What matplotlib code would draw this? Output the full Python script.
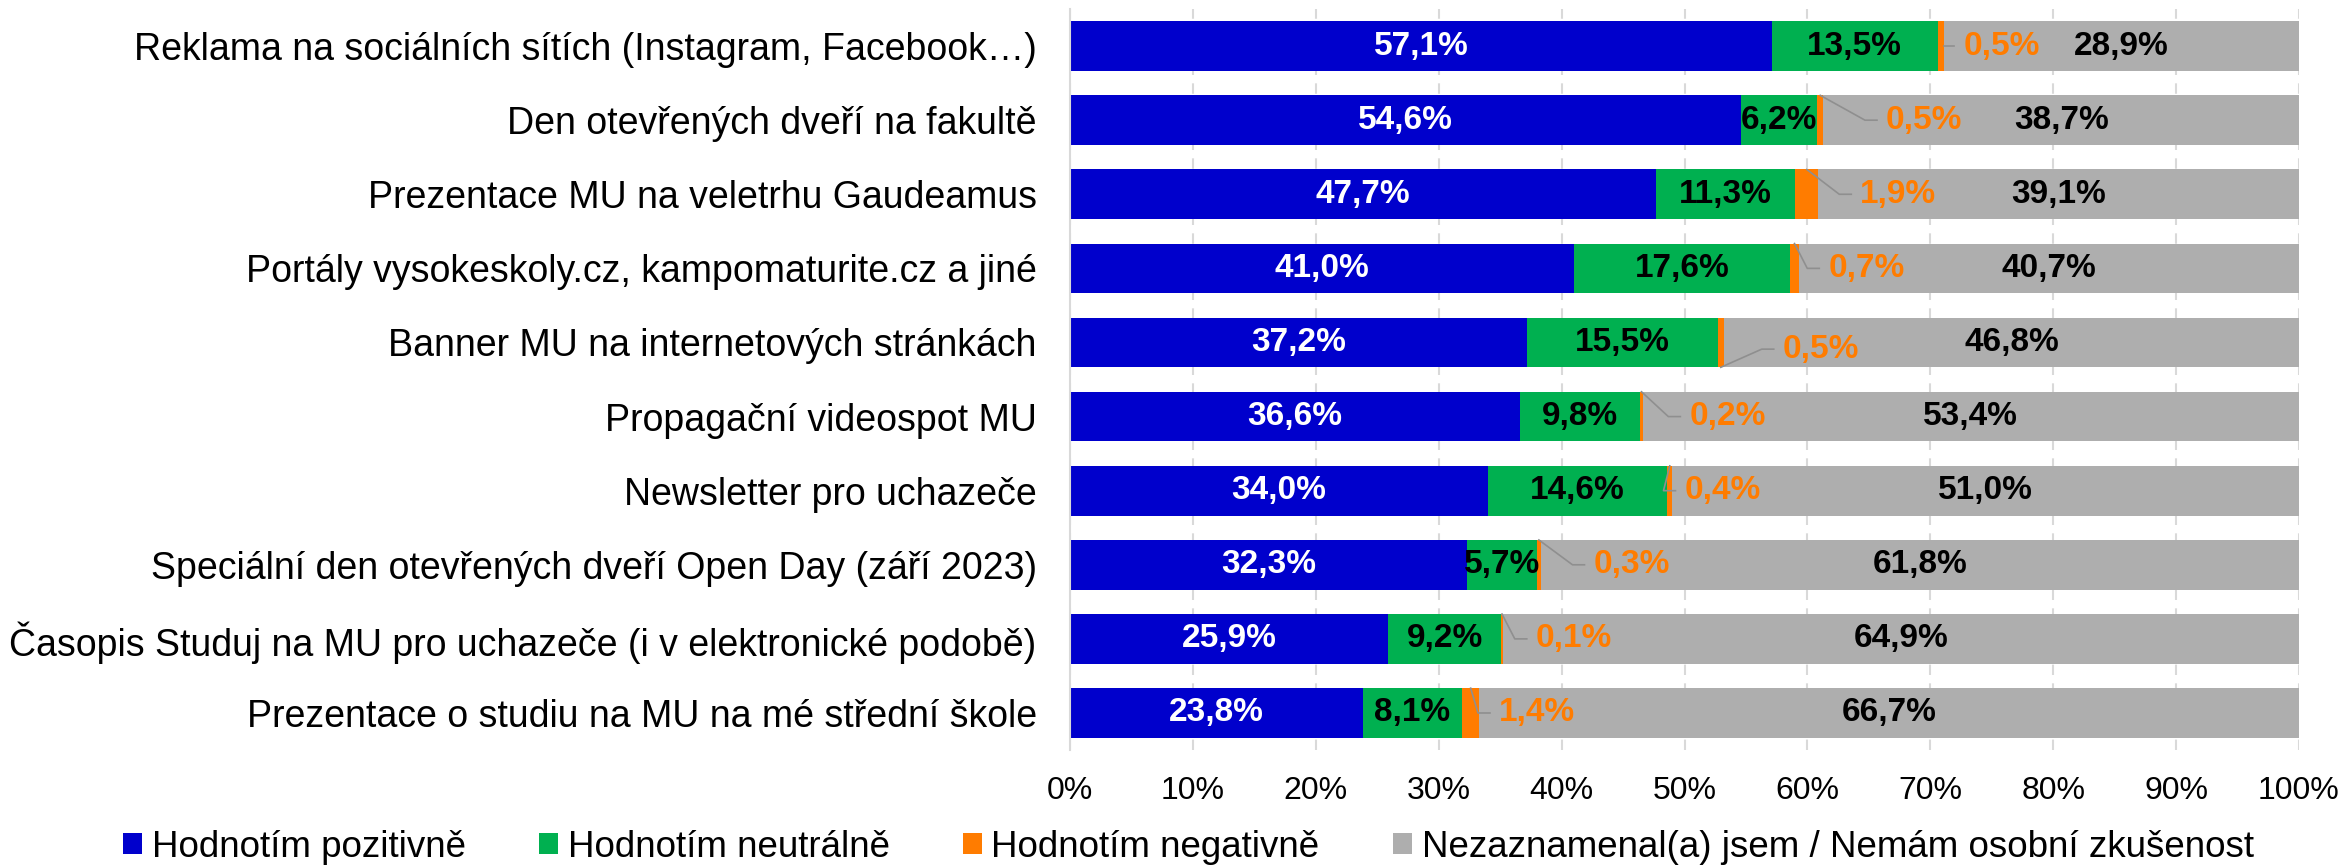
import numpy as np
import matplotlib
matplotlib.use("Agg")
import matplotlib.pyplot as plt
from matplotlib.patches import Patch

plt.rcParams['font.family'] = ['Liberation Sans', 'DejaVu Sans']

categories = [
    "Reklama na sociálních sítích (Instagram, Facebook…)",
    "Den otevřených dveří na fakultě",
    "Prezentace MU na veletrhu Gaudeamus",
    "Portály vysokeskoly.cz, kampomaturite.cz a jiné",
    "Banner MU na internetových stránkách",
    "Propagační videospot MU",
    "Newsletter pro uchazeče",
    "Speciální den otevřených dveří Open Day (září 2023)",
    "Časopis Studuj na MU pro uchazeče (i v elektronické podobě)",
    "Prezentace o studiu na MU na mé střední škole",
]
positive = [57.1, 54.6, 47.7, 41.0, 37.2, 36.6, 34.0, 32.3, 25.9, 23.8]
neutral = [13.5, 6.2, 11.3, 17.6, 15.5, 9.8, 14.6, 5.7, 9.2, 8.1]
negative = [0.5, 0.5, 1.9, 0.7, 0.5, 0.2, 0.4, 0.3, 0.1, 1.4]
no_exp = [28.9, 38.7, 39.1, 40.7, 46.8, 53.4, 51.0, 61.8, 64.9, 66.7]
series_names = ["Hodnotím pozitivně", "Hodnotím neutrálně", "Hodnotím negativně",
                "Nezaznamenal(a) jsem / Nemám osobní zkušenost"]
colors = ["#0000CC", "#00B050", "#FF7C00", "#AEAEAE"]
label_colors = ["white", "black", "#FF7C00", "black"]

# where the small "negative" labels were dragged to (x in %, y shift in bar units)
neg_label_x = [75.8, 69.5, 67.4, 64.8, 61.1, 53.5, 53.1, 45.7, 41.0, 38.0]
neg_label_dy = [0, 0, 0, 0, 0.09, 0, 0, 0, 0, 0]
neg_anchor = ["side", "top", "top", "top", "bottom", "top", "top", "top", "top", "top"]


def fmt(v):
    return f"{v:.1f}%".replace(".", ",")


fig = plt.figure(figsize=(23.44, 8.68), dpi=100)
ax = fig.add_axes([0.4565, 0.1359, 0.5243, 0.8537])

y = np.arange(len(categories))
h = 0.67
fs_cat = 27
fs_tick = 23
fs_lab = 24
fs_leg = 26.5
data = [positive, neutral, negative, no_exp]
left = np.zeros(len(categories))
for k, vals in enumerate(data):
    vals = np.array(vals)
    ax.barh(y, vals, left=left, height=h, color=colors[k], zorder=2)
    if k != 2:
        for i, v in enumerate(vals):
            ax.text(left[i] + v / 2, y[i], fmt(v), ha="center", va="center",
                    color=label_colors[k], fontsize=fs_lab, fontweight="bold", zorder=4)
    left = left + vals

ax.set_xlim(0, 100)
ax.set_ylim(len(categories) - 0.5, -0.5)
ax.set_yticks(y)
ax.set_yticklabels(categories, fontsize=fs_cat)
ax.set_xticks(np.arange(0, 101, 10))
ax.set_xticklabels([f"{t}%" for t in range(0, 101, 10)], fontsize=fs_tick)
ax.tick_params(axis="y", length=0, pad=24)
ax.tick_params(axis="x", length=0, pad=19)
ax.xaxis.grid(True, color="#D9D9D9", linestyle=(0, (5, 4)), linewidth=1.5, zorder=0)
ax.set_axisbelow(True)
for s in ["top", "right", "bottom"]:
    ax.spines[s].set_visible(False)
ax.spines["left"].set_color("#D9D9D9")
ax.spines["left"].set_linewidth(1.5)

# negative labels with leader lines
neg_texts = []
for i in range(len(categories)):
    t = ax.text(neg_label_x[i], y[i] + neg_label_dy[i], fmt(negative[i]), ha="center",
                va="center", color=label_colors[2], fontsize=fs_lab, fontweight="bold", zorder=4)
    neg_texts.append(t)

fig.canvas.draw()
inv = ax.transData.inverted()
for i, t in enumerate(neg_texts):
    bb = t.get_window_extent()
    lx = bb.x0
    ty = ax.transData.transform((0, y[i] + neg_label_dy[i]))[1]
    start_l = positive[i] + neutral[i]
    end = start_l + negative[i]
    if neg_anchor[i] == "side":
        p0 = ax.transData.transform((end, y[i]))
        pts = [p0, (lx - 9, ty)]
    else:
        yy = y[i] - h / 2 if neg_anchor[i] == "top" else y[i] + h / 2
        p0 = ax.transData.transform(((start_l + end) / 2, yy))
        pts = [p0, (lx - 21, ty), (lx - 9, ty)]
    pts = inv.transform(np.array(pts, dtype=float))
    ax.plot(pts[:, 0], pts[:, 1], color="#8F8F8F", lw=1.2, zorder=3)

handles = [Patch(facecolor=c, edgecolor="none") for c in colors]
fig.legend(handles, series_names, loc="center", bbox_to_anchor=(0.507, 0.024), ncol=4,
           frameon=False, fontsize=fs_leg, handlelength=0.52, handleheight=0.52,
           handletextpad=0.25, columnspacing=2.0, borderaxespad=0, borderpad=0)

fig.savefig("out.png", dpi=100)
